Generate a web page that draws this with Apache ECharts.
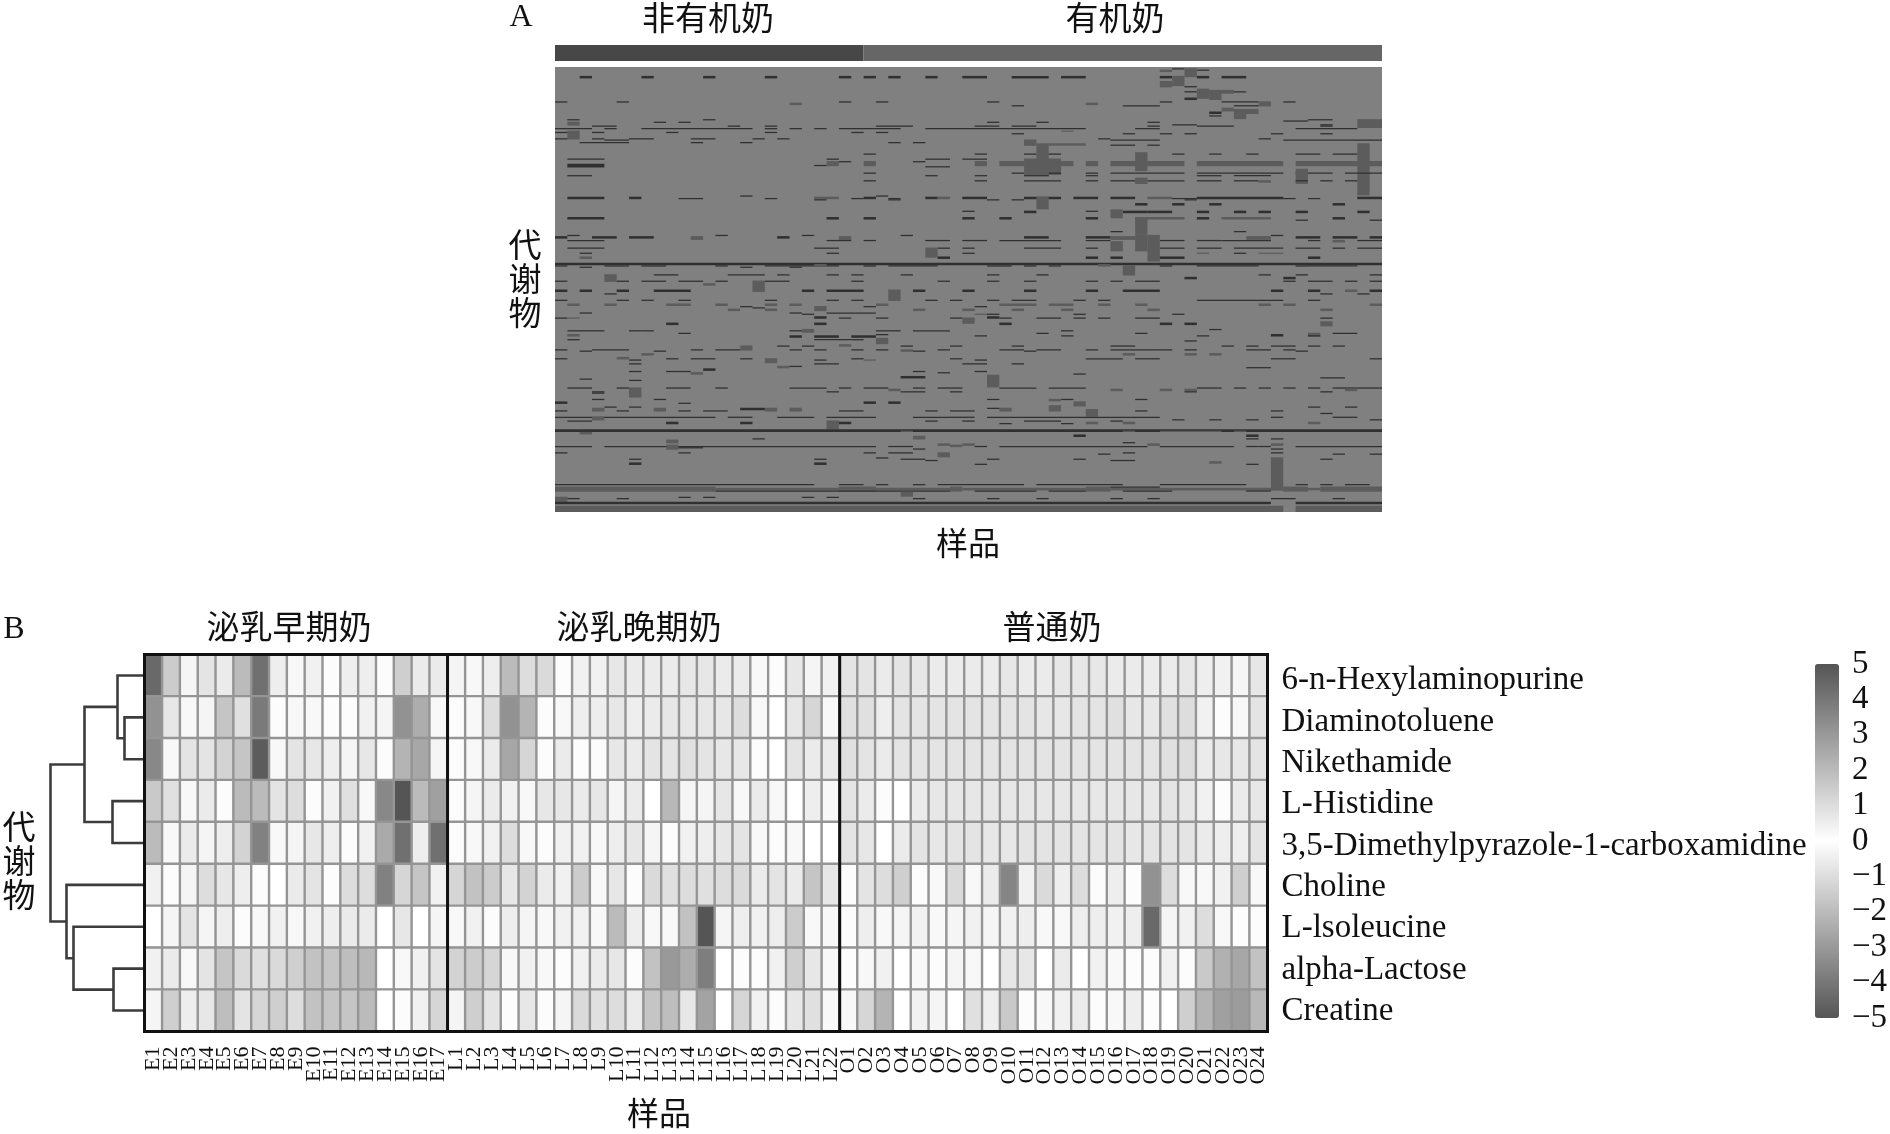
<!DOCTYPE html>
<html><head><meta charset="utf-8">
<style>html,body{margin:0;padding:0;background:#fff}#c{width:1890px;height:1134px}</style>
<script src="https://cdn.jsdelivr.net/npm/echarts@6/dist/echarts.min.js"></script>
</head><body><div id="c"></div>
<script>
// ---------- Panel A: sparse marks ----------
const aColumnCount = 67, aRowCount = 350;
const aGroups = [[0,25,1],[25,67,2]];
// each mark: [row, rowHeight, level(1 dark / 2 mid), from, to, from, to ...] in sample columns
const aMarks = [
[7,2,1, 2,3,7,8,12,13,17,18,23,24,25,26,27,28,30,31,33,35,37,40,41,43,49,50,52,53,54,56],
[2,2,2, 49,50],[1,1,1, 50,51],[2,1,1, 52,53],[1,7,2, 51,52],[7,8,2, 50,51],[11,5,2, 49,50],[15,1,1, 51,52],
[19,1,1, 51,52,53,56],[17,8,2, 52,53],[18,8,2, 53,54],[18,3,2, 54,55],[24,2,1, 51,52],
[27,1,1, 0,1,5,6,23,24,26,27,35,36,49,50,54,57,59,60],[28,2,2, 19,20,43,44],[27,4,2, 57,58],
[30,1,1, 37,38,46,49,55,57],[32,3,2, 54,55],[35,2,1, 53,54],[33,4,2, 55,57],[38,1,1, 53,54],[37,4,2, 55,56],
[41,1,1, 1,2,12,13,61,63],[42,1,1, 59,61],[41,7,2, 65,67],
[43,1,1, 8,9,10,11,35,36,39,40,48,49],[43,3,2, 1,2],[45,1,1, 50,52,62,63],
[46,1,1, 3,5,14,15,17,18,26,29,34,36,37,39,48,49,52,55,62,63],
[48,1,1, 0,3,4,5,7,16,17,18,19,20,21,22,23,28,30,43,47,49,60,65],
[50,1,2, 41,42],[50,7,2, 1,2],[51,1,1, 3,4,9,10,17,18,24,25,26,27,0,1],[52,1,1, 37,38,46,47,49,50,51,52,58,59,62,63],
[56,1,1, 0,1,3,4,6,8,11,13,16,17,18,19,57,58,44,45],[57,1,1, 4,6,45,49,59,67],
[59,1,1, 2,6,11,12,15,16,27,28,29,30],[57,5,2, 38,39],[60,2,2, 40,43],[60,25,2, 39,40],[60,41,2, 65,66],
[61,1,1, 45,47,48,49],[68,1,1, 25,26,34,35,38,39,40,41,53,54,56,57,50,51,60,62,63,65],[67,15,2, 47,48],
[72,1,1, 1,4,22,23,33,35,30,32],[74,1,1, 23,24,29,30],[74,4,2, 25,26,34,35,36,38,41,42,43,44,45,51,52,59,60,67,22,23],
[76,3,1, 1,4],[77,1,1, 21,22],[72,13,2, 38,41],[78,1,1, 30,32],
[83,1,1, 25,26,37,38,40,41,43,44,45,48,48,51,52,57,57,59,60,63,64,67],[85,1,1, 1,3,30,31,34,35,38,40,43,44,52,54,55,58],
[87,5,2, 47,48],[80,12,2, 60,61],[89,1,1, 25,26,34,35,38,41,43,44,45,47,48,51,52,54,55,57,60,61,62,63,64,65],[89,2,2, 57,58],
[101,1,1, 15,16,26,27],[102,2,1, 1,4,6,7,25,26,30,31,33,35,38,41,42,44,45,47,52,59,65,67],[102,2,2, 21,23,31,32,48,50],
[103,1,1, 10,12,17,18,24,25,27,28,50,52,59,60,61,62],[104,1,1, 21,22,27,28,35,36,37,38,51,52],[102,10,2, 39,40],
[107,2,1, 47,48,50,51,53,54,63,64],
[113,2,1, 38,39,46,48,48,50,52,53,55,56,57,58,60,61,65,66],[113,1,1, 33,34,43,44],[112,7,2, 45,46],
[118,2,1, 1,4,22,23,25,26,33,34,36,37,43,44,52,53,63,64],[118,2,2, 47,51,54,58],[120,1,1, 60,61,66,67],[118,14,2, 47,48],
[129,1,1, 45,46,55,56],[132,1,1, 1,2,20,21,28,29,58,59,13,14],
[133,2,1, 0,1,3,5,6,8,18,19,38,40,43,45,60,62,63,65,66,67],[133,3,2, 11,12,23,24,45,47,56,58],
[136,1,1, 1,4,22,24,25,26,30,32,33,35,36,41,43,45,49,51,52,54,54,58,61,62,65,67],[136,2,2, 63,64],
[132,21,2, 48,49],[132,13,2, 47,48],[137,8,2, 45,46],
[142,1,1, 1,4,21,23,31,32,33,34,38,41,43,44,49,51,52,54,55,59,60,62,63,64,65,67],[142,8,2, 30,31],
[146,1,1, 2,3,22,23,33,34,55,56],[146,1,2, 52,53,57,59],[149,2,2, 2,3],[149,2,1, 31,32,43,44,45,46,49,51,61,62],
[154,2,1, 0,67],
[156,1,1, 0,1,4,6,7,9,13,14,17,23,25,26,27,31,35,37,38,39,40,41,49,50,52,57,60,61,61,65],[155,2,2, 44,45,21,22],
[157,1,1, 2,3,15,16,19,20],[156,8,2, 46,47],
[163,1,1, 8,10,14,17,18,19,22,23,24,25,28,29,35,36,39,40,57,58,60,61,66,67],[163,6,2, 4,5],[165,2,1, 51,52,59,60],
[168,1,1, 0,1,5,6,7,9,10,12,13,14,17,19,24,25,31,32,35,36,38,39,43,44,45,46,47,49,59,60,61,63,64,65,66,67],
[170,2,2, 12,13],[168,9,2, 16,17],[175,2,1, 0,1,2,3,5,6,8,11,20,21,22,25,29,30,33,34,38,39,43,44,46,49,58,59,61,62,66,67],[175,2,2, 64,65],
[178,1,1, 4,5,62,63,65,66],[175,9,2, 27,28],
[183,1,1, 0,1,5,6,7,8,10,11,17,18,22,23,24,25,30,31,32,33,35,36,37,39,52,59,61,62,42,43,44,45],
[186,2,2, 1,2,4,5,9,11,13,14,17,18,19,20,26,27,36,38,38,39,40,42,44,45,47,48,57,58,59,60,66,67],
[188,1,1, 15,16,25,26,34,35],[189,1,1, 16,17],[190,2,2, 14,15,17,18,29,30,33,34,37,38,41,42,48,49,62,63],[188,4,2, 21,22],
[193,1,1, 2,3,19,20,22,26],[194,1,1, 20,21,35,36,42,43,50,51],[194,1,2, 34,35],[196,2,1, 21,22,35,36],
[197,1,1, 0,1,23,24,26,27,32,33,36,37,39,41,42,43,44,45,47,49,62,63],[197,1,2, 1,2],[197,5,2, 33,34],
[201,2,1, 9,10,21,22,36,37,49,50,51,52],[200,4,2, 62,63],[206,1,1, 53,54],
[207,1,1, 1,3,3,4,6,7,7,8,19,20,26,28,29,32,41,42],[206,3,2, 20,21],
[209,1,1, 39,40,47,48,63,65,10,11],[210,2,2, 1,2],[210,1,1, 26,27],[209,3,2, 61,62],[210,2,1, 58,59],
[211,2,1, 19,20,21,23,24,26],[211,1,1, 34,35,41,42,52,53,61,62],[214,1,1, 1,2,21,24,24,25],[213,5,2, 26,27],[215,1,1, 51,52],
[218,2,2, 23,24],[219,1,1, 18,19,20,21,28,29,32,33,37,38,45,47,54,55,56,57,58,60,61,62,63,64],
[222,1,1, 0,1,3,6,11,12,13,15,19,20,21,22,24,25,26,27,31,32,36,38,39,41,43,44,45,49,49,50,51,52,56,58,59,60],
[219,4,2, 15,16],[222,2,2, 28,29],[223,1,1, 2,3,8,9,29,30,38,39,60,61],[225,2,2, 7,8,46,47,51,52,53,54],
[228,2,2, 5,6],[229,1,1, 0,1,9,10,11,13,15,16,24,25,32,33,43,46,47,49,58,60,66,67],[229,4,2, 17,18],[230,1,2, 25,26],
[230,1,1, 6,7,21,22,34,35],[233,1,1, 6,7,21,23,33,35,37,38],[235,2,2, 18,19],[235,1,1, 19,20],[236,1,1, 56,58],
[237,2,1, 12,13],[239,1,1, 6,7,9,11,29,30,34,35],[240,2,2, 11,12],[240,1,1, 31,32],[241,1,1, 42,43],
[243,2,1, 28,30],[244,1,1, 62,64],[245,1,1, 2,3],[246,1,1, 6,7],[242,10,2, 35,36],
[252,1,1, 1,3,5,6,9,11,13,14,19,22,23,24,25,27,29,30,31,32,32,33,36,39,40,43,52,54,55,56,57,58,59,60,61,62,63,65,65,67],
[252,8,2, 6,7],[253,2,2, 27,28,45,46,49,50,51,52,64,65],[255,1,1, 3,4,22,23,28,30,32,33,51,52,62,63],[256,1,1, 3,4],
[261,1,1, 3,4,8,9,35,36,47,48,41,42],[261,2,2, 40,41],[263,2,1, 0,1,25,26,27,28],[264,1,1, 10,11],[263,4,2, 42,43],
[267,1,1, 4,5,6,7,61,62,64,65],[266,5,2, 40,41],[268,3,2, 3,4,8,9,17,18,19,20,36,37],[268,2,1, 15,17],[268,1,1, 35,36],
[270,1,1, 0,1,5,6,10,11,12,14,23,25,30,31,32,34,47,48,58,59],[269,6,2, 43,44],[272,1,1, 62,63],
[275,1,1, 0,13,14,15,15,16,18,21,22,26,29,32,32,34,35,49,58,59,63,65],[275,3,2, 3,4],
[277,1,1, 50,51,53,54,56,57,66,67],[278,1,1, 1,3,30,31,33,34,38,41,45,46],[279,2,1, 9,10,15,16,23,24],[279,2,2, 43,44,46,47,61,62],
[278,7,2, 22,23],[280,1,1, 41,42,36,37],
[285,2,1, 0,67],[286,1,2, 46,47,49,54,55,56,28,29],[287,2,2, 2,3],[289,2,1, 42,43,56,57],[290,3,2, 29,30],
[292,1,1, 16,17,56,57,58,59],[295,1,1, 46,47],[293,3,2, 9,10],[296,2,2, 31,32,33,34,48,49,58,59],[297,2,2, 32,33],
[298,1,1, 0,3,4,26,27,29,34,35,36,48,49,55,56,57,57,58,60,67],[297,4,2, 9,10],[299,1,1, 10,12],[300,1,1, 29,30,58,59],
[303,1,1, 0,1,10,11,25,26,27,29,46,47,58,59],[303,4,2, 31,32],[304,1,1, 44,45,63,64,66,67],
[307,1,1, 26,27],[308,1,1, 6,7,21,22,28,30,35,36,42,43,62,63],[309,1,1, 30,31,45,47],[310,2,2, 53,54],[311,2,1, 6,7,21,22],[312,1,1, 34,35,56,57],
[307,26,2, 58,59],
[328,1,1, 0,21,23,25,26,27,29,30,31,38,39,46,49,56,60,61,62,63,64,66],
[330,4,2, 0,13,23,26,32,33,43,45,59,61,62,67],[331,2,2, 13,23,26,32,33,43,45,59,61,62],[330,1,1, 45,49],[333,1,1, 13,32,34,39,40,43,46,50,56,58],
[334,4,2, 28,29],[338,1,1, 10,11,12,13,20,21,22,23],[338,5,2, 0,1],[339,1,1, 1,2,5,6,29,30,35,36,39,40,45,46,48,49,58,60,63,64],
[342,2,1, 0,58,60,67],[345,5,2, 0,59,60,67]
];

// ---------- Panel B: heatmap values ----------
const metabolites = ['6-n-Hexylaminopurine','Diaminotoluene','Nikethamide','L-Histidine','3,5-Dimethylpyrazole-1-carboxamidine','Choline','L-lsoleucine','alpha-Lactose','Creatine'];
const samples = ['E1','E2','E3','E4','E5','E6','E7','E8','E9','E10','E11','E12','E13','E14','E15','E16','E17',
'L1','L2','L3','L4','L5','L6','L7','L8','L9','L10','L11','L12','L13','L14','L15','L16','L17','L18','L19','L20','L21','L22',
'O1','O2','O3','O4','O5','O6','O7','O8','O9','O10','O11','O12','O13','O14','O15','O16','O17','O18','O19','O20','O21','O22','O23','O24'];
const groupSizes = [17,22,24];
// The picture is greyscale, so only the size of each value can be read.
const hexylaminopurine = [4.4,1.5,.3,.8,.6,2,4.2,.5,.2,.4,.1,.5,.5,.1,1.4,.6,.6, .3,.2,.5,2,1,1.1,.1,.4,.4,.7,.6,.6,.6,.7,.7,.6,.6,.2,.1,.7,.3,.4, .8,.8,.6,.8,.7,.6,.6,.6,.6,.7,.6,.6,.7,.7,.7,.6,.6,.6,.6,.7,.5,.4,.3,.7];
const diaminotoluene = [3.2,.7,.2,.3,1.7,.9,3.9,.1,.2,.2,.1,.1,.4,.3,3.2,2.4,.2, .1,.2,1,3.2,2.2,.1,.2,.5,.5,.7,.5,.6,.7,.7,.7,.7,1,.2,0,.7,1.2,.2, .9,.9,.5,.8,.8,.8,.8,.8,.8,.8,.8,.7,.7,.8,.8,.9,.7,.7,.9,1,.4,.1,.2,.8];
const nikethamide = [3.5,.2,.8,.8,1.3,1.7,4.8,.2,.8,.7,.5,.3,.7,.1,2.2,2.6,.3, .1,.2,.6,2.6,1.2,.1,.6,.1,.1,.7,.6,.8,.8,.9,.8,.7,.7,.1,0,.8,.6,.6, .9,.8,.6,.8,.8,.8,.8,.8,.8,.8,.8,.8,.8,.8,.8,.8,.8,.8,.9,1,.6,.7,.7,.8];
const histidine = [1.6,.9,.2,.6,.1,2,2,.8,1,.1,.4,.9,.2,3.5,5,2,2.8, .1,.3,.6,.4,.2,.7,.7,.6,.7,.3,.6,0,2.1,.3,.3,.7,.2,.6,.2,0,.5,.2, .8,.6,.1,0,.6,.7,.7,.7,.7,.7,.7,.7,.7,.7,.7,.7,.7,.7,.8,.7,.4,.1,.6,.7];
const dimethylpyrazole = [2,.2,.6,.3,.5,1.3,3.7,.2,.3,.7,.5,.1,.4,2.5,4.2,.5,4.2, .1,.2,.4,1,.2,.1,.4,.4,.2,.5,.7,.3,.1,.4,.5,.7,.8,.2,.1,.2,0,0, .8,.7,0,.6,.8,.7,.8,.8,.7,.7,.8,.8,.8,.8,.8,.8,.7,.8,.8,.8,.6,.5,.5,.8];
const choline = [.4,.1,.3,1,.7,.5,.1,0,.6,.8,.1,1,1,3.7,1.2,1.7,.4, 1.2,1.8,1.5,.7,1.3,.6,.4,1.5,.2,.7,.1,1.1,.9,1,.9,1,1.1,.6,.8,.6,1.7,.7, .1,.8,1,1.4,.1,.2,1.1,.2,.6,3.6,.4,1.1,.5,1,.1,.5,.1,3.2,1,.2,.2,.4,1.4,.2];
const isoleucine = [0,.3,.8,.3,.5,.1,.2,.4,.2,.4,.5,.6,.6,0,.7,0,.3, .2,.4,.1,.5,.3,.2,.4,.4,.2,2,.5,.2,.2,1.8,5,.3,.5,.4,.5,1.5,.2,.2, .1,.5,.2,.3,.4,.2,.3,.4,.3,.4,.5,.2,.2,.5,.5,.4,.5,4.4,.3,.4,1,.2,.1,.1];
const lactose = [.4,.6,.2,.8,1.7,1.1,.9,1.1,1.4,1.8,1.7,1.9,2.1,0,.2,.4,.8, 1.3,1.5,1.2,.2,.4,.2,.1,.4,.6,.7,.1,1.8,3,2.4,3.8,0,.1,.1,.4,1.4,.7,.2, .1,.2,.4,0,.2,.1,.3,.2,0,.7,.7,0,.6,0,.4,.2,.1,.1,.4,.1,1.6,2.3,2.6,1.8];
const creatine = [.3,1.4,.5,.7,1.9,.8,1.2,1.4,1,1.8,1.7,1.7,2,0,.1,.4,1.2, .3,1.4,.8,.1,.7,.1,.3,1.1,.9,1,.6,1.7,1.9,.7,2.7,0,1.2,.4,.1,.7,.9,.2, .2,1.2,2.2,0,.4,.3,0,.9,.5,1.6,.1,.2,.4,.6,.1,.2,.5,.1,0,1.4,2.2,2.8,2.9,2.1];
const matrixRows = [hexylaminopurine,diaminotoluene,nikethamide,histidine,dimethylpyrazole,choline,isoleucine,lactose,creatine];
// dendrogram merges: a child >= 0 is a metabolite row, a child < 0 is merge (-child-1)
const mergeLeft  = [1, 0, 3, -2, 7, 6, 5, -4];
const mergeRight = [2, -1, 4, -3, 8, -5, -6, -7];
const mergeHeight= [20, 27, 32, 60, 31, 71, 78, 94];
const colorTicks = [-5,5];

const heatData = [];
matrixRows.forEach((r,y)=>r.forEach((v,x)=>heatData.push([x,y,v])));
const aData = [];
aMarks.forEach(m=>{ for(let i=3;i<m.length;i+=2) aData.push([m[i],m[i+1],m[0],m[0]+m[1],m[2]]); });
const mergeY = [];
function childY(c){ return c>=0 ? c+0.5 : mergeY[-c-1]; }
function childH(c){ return c>=0 ? 0 : mergeHeight[-c-1]; }
const dendroData = mergeHeight.map((h,i)=>{
  const y1=childY(mergeLeft[i]), y2=childY(mergeRight[i]);
  mergeY[i]=(y1+y2)/2;
  return [y1,childH(mergeLeft[i]),y2,childH(mergeRight[i]),h];
});
let acc=0; const groupEdges=[0]; groupSizes.forEach(s=>{acc+=s;groupEdges.push(acc);});

const SERIF='"Liberation Serif","Times New Roman",serif';
const CJK='"Noto Sans CJK SC",sans-serif';
const hidden={show:false};
function rectItem(colorOf){ return (params,api)=>{
  const a=api.coord([api.value(0),api.value(2)]), b=api.coord([api.value(1),api.value(3)]);
  return {type:'rect',shape:{x:a[0],y:a[1],width:b[0]-a[0],height:b[1]-a[1]},style:{fill:colorOf(api.value(4))}};
};}
function label(text,x,y,size,font,extra){
  return Object.assign({type:'text',x,y,z:100,style:{text,fontSize:size,fontFamily:font,fill:'#111',align:'center',verticalAlign:'middle',lineHeight:extra&&extra.lh}});
}
const option={
  animation:false,backgroundColor:'#fff',
  grid:[
    {left:555,top:67,width:827,height:445,show:true,backgroundColor:'#808080',borderWidth:0},
    {left:555,top:45,width:827,height:16},
    {left:144.5,top:654.5,width:1123,height:377},
    {left:144.5,top:654.5,width:1123,height:377},
    {left:40,top:654.5,width:104.5,height:377},
    {left:1815,top:664,width:24,height:354},
    {left:144.5,top:660,width:1123,height:372}
  ],
  xAxis:[
    {gridIndex:0,type:'value',min:0,max:aColumnCount,show:false},
    {gridIndex:1,type:'value',min:0,max:aColumnCount,show:false},
    {gridIndex:2,type:'category',data:samples,position:'bottom',axisLine:hidden,axisTick:hidden,
      axisLabel:{interval:0,rotate:90,margin:15,fontSize:22,fontFamily:SERIF,color:'#111'}},
    {gridIndex:3,type:'value',min:0,max:samples.length,show:false},
    {gridIndex:4,type:'value',min:0,max:104.5,inverse:true,show:false},
    {gridIndex:5,type:'value',min:0,max:1,show:false},
    {gridIndex:6,type:'value',min:0,max:1,show:false}
  ],
  yAxis:[
    {gridIndex:0,type:'value',min:0,max:aRowCount,inverse:true,show:false},
    {gridIndex:1,type:'value',min:0,max:1,show:false},
    {gridIndex:2,type:'category',data:metabolites,inverse:true,show:false},
    {gridIndex:3,type:'value',min:0,max:metabolites.length,inverse:true,show:false},
    {gridIndex:4,type:'value',min:0,max:metabolites.length,inverse:true,show:false},
    {gridIndex:5,type:'value',min:colorTicks[0],max:colorTicks[1],interval:1,position:'right',splitLine:hidden,axisLine:hidden,axisTick:hidden,
      axisLabel:{margin:13,fontSize:33,fontFamily:SERIF,color:'#111',formatter:v=>String(v).replace('-','\u2212')}},
    {gridIndex:6,type:'category',data:metabolites,inverse:true,position:'right',axisLine:hidden,axisTick:hidden,splitLine:hidden,
      axisLabel:{interval:0,margin:14,fontSize:33,fontFamily:SERIF,color:'#111'}}
  ],
  visualMap:[{type:'continuous',seriesIndex:2,min:colorTicks[0],max:colorTicks[1],left:1815,top:664,itemWidth:24,itemHeight:354,padding:0,
    calculable:false,hoverLink:false,inRange:{color:['#555555','#ffffff','#555555']},textStyle:{fontSize:0}}],
  series:[
    {type:'custom',xAxisIndex:0,yAxisIndex:0,data:aData,silent:true,renderItem:rectItem(v=>v===1?'#303030':'#5c5c5c')},
    {type:'custom',xAxisIndex:1,yAxisIndex:1,data:aGroups.map(g=>[g[0],g[1],0,1,g[2]]),silent:true,renderItem:rectItem(v=>v===1?'#474747':'#666666')},
    {type:'heatmap',xAxisIndex:2,yAxisIndex:2,data:heatData,silent:true,itemStyle:{borderColor:'#959595',borderWidth:2.4}},
    {type:'custom',xAxisIndex:3,yAxisIndex:3,data:groupEdges.map(e=>[e]),silent:true,z:10,renderItem:(p,api)=>{
      const a=api.coord([api.value(0),0]), b=api.coord([api.value(0),metabolites.length]);
      return {type:'line',shape:{x1:a[0],y1:a[1],x2:b[0],y2:b[1]},style:{stroke:'#111',lineWidth:3}};
    }},
    {type:'custom',xAxisIndex:3,yAxisIndex:3,data:[[0],[metabolites.length]],silent:true,z:10,renderItem:(p,api)=>{
      const a=api.coord([0,api.value(0)]), b=api.coord([samples.length,api.value(0)]);
      return {type:'line',shape:{x1:a[0]-1.5,y1:a[1],x2:b[0]+1.5,y2:b[1]},style:{stroke:'#111',lineWidth:3}};
    }},
    {type:'custom',xAxisIndex:4,yAxisIndex:4,data:dendroData,silent:true,renderItem:(p,api)=>{
      const P=(h,y)=>api.coord([h,y]);
      const pts=[P(api.value(1),api.value(0)),P(api.value(4),api.value(0)),P(api.value(4),api.value(2)),P(api.value(3),api.value(2))];
      return {type:'polyline',shape:{points:pts},style:{stroke:'#3c3c3c',lineWidth:2.6,fill:'none'}};
    }}
  ],
  graphic:[
    label('A',521,18,32,SERIF),label('非有机奶',708,17,33,CJK),label('有机奶',1115,17,33,CJK),
    label('样品',968,543,32,CJK),label('代\n谢\n物',525,278,33,CJK,{lh:34}),
    label('B',14,630,32,SERIF),label('泌乳早期奶',289,626,33,CJK),label('泌乳晚期奶',639,626,33,CJK),label('普通奶',1052,626,33,CJK),
    label('代\n谢\n物',19,860,33,CJK,{lh:34}),
    label('样品',659,1113,32,CJK)
  ]
};
echarts.init(document.getElementById('c')).setOption(option);
</script></body></html>
